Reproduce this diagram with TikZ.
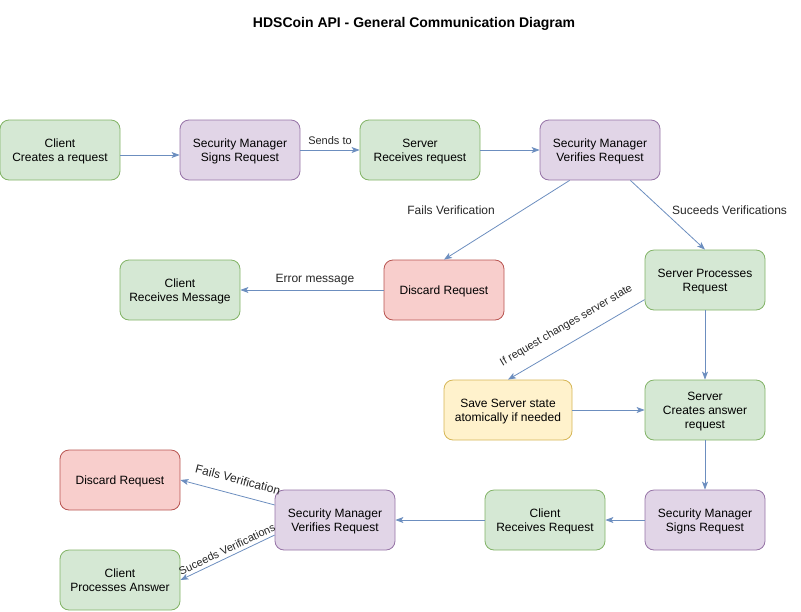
\documentclass[tikz,border=0pt]{standalone}
\usepackage{fontspec}
\setmainfont{Liberation Sans}
\usetikzlibrary{arrows.meta}
\definecolor{greenfill}{HTML}{D5E8D4}
\definecolor{greenline}{HTML}{82B366}
\definecolor{purplefill}{HTML}{E1D5E7}
\definecolor{purpleline}{HTML}{9673A6}
\definecolor{redfill}{HTML}{F8CECC}
\definecolor{redline}{HTML}{B85450}
\definecolor{yellowfill}{HTML}{FFF2CC}
\definecolor{yellowline}{HTML}{D6B656}
\definecolor{flowline}{HTML}{6C8EBF}

\begin{document}
\begin{tikzpicture}[x=1pt,y=-1pt,
  box/.style={rounded corners=9pt,minimum width=120pt,minimum height=60pt,align=center,inner sep=0pt,line width=0.8pt,font=\fontsize{12}{14}\selectfont,text depth=-1.5pt},
  greenbox/.style={box,draw=greenline,fill=greenfill},
  purplebox/.style={box,draw=purpleline,fill=purplefill},
  redbox/.style={box,draw=redline,fill=redfill},
  yellowbox/.style={box,draw=yellowline,fill=yellowfill},
  flow/.style={draw=flowline,line width=0.8pt,-{Stealth[length=8pt,width=6pt,inset=2pt]}},
  lbl/.style={font=\fontsize{12}{14}\selectfont,text=black!85},
  smalllbl/.style={lbl,font=\fontsize{11}{13}\selectfont}]
\useasboundingbox (0,0) rectangle (801,611);
\node[font=\bfseries\fontsize{14}{16}\selectfont] (title) at (414,24) {HDSCoin API - General Communication Diagram};
\node[greenbox] (clientNew) at (60,150) {Client\\Creates a request};
\node[purplebox] (smSign) at (240,150) {Security Manager\\Signs Request};
\node[greenbox] (serverRecv) at (420,150) {Server\\Receives request};
\node[purplebox] (smVerify) at (600,150) {Security Manager\\Verifies Request};
\node[redbox] (discardTop) at (444,290) {Discard Request};
\node[greenbox] (clientMsg) at (180,290) {Client\\Receives Message};
\node[greenbox] (serverProc) at (705,280) {Server Processes\\Request};
\node[yellowbox,minimum width=128pt] (saveState) at (508,410) {Save Server state\\atomically if needed};
\node[greenbox] (serverAnswer) at (705,410) {Server\\Creates answer\\request};
\node[purplebox] (smSignBack) at (705,520) {Security Manager\\Signs Request};
\node[greenbox] (clientRecv) at (545,520) {Client\\Receives Request};
\node[purplebox] (smVerifyBack) at (335,520) {Security Manager\\Verifies Request};
\node[redbox] (discardBottom) at (120,480) {Discard Request};
\node[greenbox] (clientProc) at (120,580) {Client\\Processes Answer};

\draw[flow] ([yshift=-5pt]clientNew.east) -- ([yshift=-5pt]smSign.west);
\draw[flow] (smSign) -- node[smalllbl,above=2pt] {Sends to} (serverRecv);
\draw[flow] (serverRecv) -- (smVerify);
\draw[flow] (smVerify.225) -- node[lbl,pos=0.375,left=24pt] {Fails Verification} (discardTop.north);
\draw[flow] (smVerify.-45) -- node[lbl,pos=0.43,right=6pt] {Suceeds Verifications} (serverProc.north);
\draw[flow] (discardTop) -- node[lbl,pos=0.48,above=1pt] {Error message} (clientMsg);
\draw[flow] (serverProc.198) -- node[smalllbl,sloped,pos=0.51,above=8pt] {If request changes server state} (saveState.north);
\draw[flow] (serverProc) -- (serverAnswer);
\draw[flow] (saveState) -- (serverAnswer);
\draw[flow] (serverAnswer) -- (smSignBack);
\draw[flow] (smSignBack) -- (clientRecv);
\draw[flow] (clientRecv) -- (smVerifyBack);
\draw[flow] (smVerifyBack.166) -- node[lbl,sloped,pos=0.43,above=7pt] {Fails Verification} (discardBottom.east);
\draw[flow] (smVerifyBack.194) -- node[smalllbl,sloped,pos=0.47,above=0pt] {Suceeds Verifications} (clientProc.east);
\end{tikzpicture}
\end{document}
